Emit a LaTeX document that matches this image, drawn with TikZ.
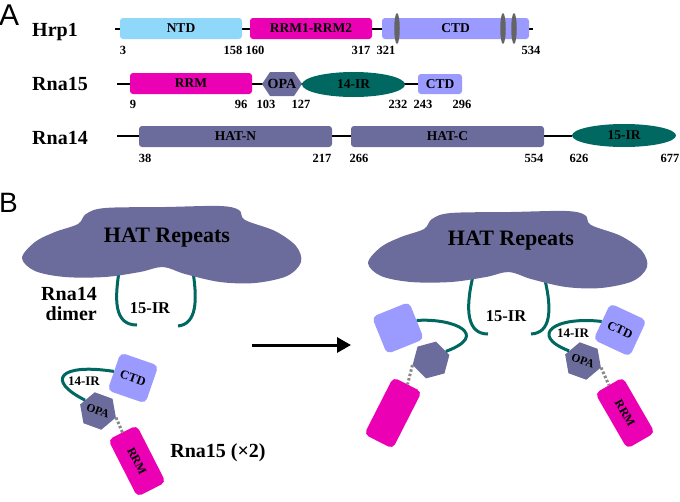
\documentclass[tikz,border=0pt]{standalone}
\usepackage{fontspec}
\setmainfont{Liberation Serif}
\newfontfamily\panelfont{Liberation Sans}
\usetikzlibrary{shapes.geometric,arrows.meta}
\definecolor{ntdblue}{RGB}{143,216,250}
\definecolor{rrmpink}{RGB}{235,0,180}
\definecolor{ctdlav}{RGB}{155,155,255}
\definecolor{hatslate}{RGB}{108,108,156}
\definecolor{irteal}{RGB}{0,104,96}
\definecolor{kinkgray}{RGB}{100,100,100}
\definecolor{tethergray}{RGB}{136,136,136}
\begin{document}
\begin{tikzpicture}[x=1pt,y=-1pt,
    bb/.style={line width=2pt},
    dom/.style={rounded corners=3pt,inner sep=0pt,minimum height=21pt,font=\bfseries\fontsize{13.5}{15}\selectfont},
    irdom/.style={ellipse,fill=irteal,inner sep=0pt,font=\bfseries\fontsize{13.5}{15}\selectfont},
    kink/.style={ellipse,fill=kinkgray,inner sep=0pt,minimum width=5.5pt,minimum height=31pt},
    num/.style={anchor=base,inner sep=0pt,font=\bfseries\fontsize{12.5}{14}\selectfont},
    prot/.style={anchor=base west,inner sep=0pt,font=\bfseries\fontsize{20}{22}\selectfont},
    panel/.style={anchor=base west,inner sep=0pt,font=\panelfont\fontsize{30}{32}\selectfont},
    hatcloud/.pic={\fill[hatslate] plot[smooth cycle,tension=0.55] coordinates{(-140,13)(-127,-3)(-107,-13)(-84,-21)(-76,-31)(-57,-37)(3,-38)(58,-39)(77,-35)(83,-25)(113,-14)(134,1)(139,17)(125,31)(93,38)(58,37)(23,29)(1,22)(-22,27)(-57,32)(-97,32)(-127,26)};},
    ctdsq/.style={fill=ctdlav,rounded corners=5pt,minimum size=40pt,inner sep=0pt},
    opahex/.style={regular polygon,regular polygon sides=6,fill=hatslate,minimum size=38pt,inner sep=0pt},
    rrmbox/.style={fill=rrmpink,rounded corners=5pt,minimum width=64pt,minimum height=32pt,inner sep=0pt},
    tag/.style={inner sep=0pt,font=\bfseries\fontsize{12.5}{14}\selectfont},
    linker/.style={draw=irteal,line width=3pt},
    tether/.style={draw=tethergray,line width=3pt,dash pattern=on 2.5pt off 2pt},
    lbl/.style={anchor=base,inner sep=0pt,font=\bfseries\fontsize{13}{15}\selectfont},
    big/.style={inner sep=0pt,font=\bfseries\fontsize{20}{23}\selectfont}]
\useasboundingbox (0,0) rectangle (680,501);
\node[panel] (pa) at (-1,25) {A};
\node[prot] (hrp) at (32,36) {Hrp1};
\coordinate (h0) at (115,29);\coordinate (h1) at (533,29);
\draw[bb] (h0)--(h1);
\node[dom,fill=ntdblue,minimum width=122pt] (ntd) at (181,28.5) {NTD};
\node[dom,fill=rrmpink,minimum width=122pt] (rrm12) at (311,28.5) {RRM1-RRM2};
\node[dom,fill=ctdlav,minimum width=147pt] (ctdA) at (455.5,28.5) {CTD};
\node[kink] (k1) at (397,28.5) {};
\node[kink] (k2) at (503,28.5) {};
\node[kink] (k3) at (514,28.5) {};
\node[num] (n3) at (123,54) {3};
\node[num] (n158) at (233,54) {158};
\node[num] (n160) at (255,54) {160};
\node[num] (n317) at (361,54) {317};
\node[num] (n321) at (386,54) {321};
\node[num] (n534) at (531,54) {534};
\node[prot] (rna15) at (32,90) {Rna15};
\coordinate (r0) at (117,84);\coordinate (r1) at (440,84);
\draw[bb] (r0)--(r1);
\node[dom,fill=rrmpink,minimum width=122pt] (rrmA) at (191,83.5) {RRM};
\fill[hatslate] (262,84)--(270,72)--(294,72)--(302,84)--(294,96)--(270,96)--cycle;
\node[inner sep=0pt,font=\bfseries\fontsize{14}{15}\selectfont] (opaA) at (282,84) {OPA};
\node[irdom,minimum width=103pt,minimum height=25pt] (ir14A) at (353.5,84.5) {14-IR};
\node[dom,fill=ctdlav,minimum width=44pt,minimum height=20pt] (ctd15) at (440,84) {CTD};
\node[num] (n9) at (133,108) {9};
\node[num] (n96) at (241,108) {96};
\node[num] (n103) at (266,108) {103};
\node[num] (n127) at (301,108) {127};
\node[num] (n232) at (398,108) {232};
\node[num] (n243) at (423,108) {243};
\node[num] (n296) at (462,108) {296};
\node[prot] (rna14) at (32,144) {Rna14};
\coordinate (q0) at (117,136);\coordinate (q1) at (572,136);
\draw[bb] (q0)--(q1);
\node[dom,fill=hatslate,minimum width=193pt] (hatn) at (235.5,136.5) {HAT-N};
\node[dom,fill=hatslate,minimum width=193pt] (hatc) at (447.5,136.5) {HAT-C};
\node[irdom,minimum width=104pt,minimum height=23pt] (ir15A) at (624,135.5) {15-IR};
\node[num] (n38) at (145,162) {38};
\node[num] (n217) at (322,162) {217};
\node[num] (n266) at (359,162) {266};
\node[num] (n554) at (534,162) {554};
\node[num] (n626) at (579,162) {626};
\node[num] (n677) at (670,162) {677};
\node[panel,font=\panelfont\fontsize{28}{30}\selectfont] (pb) at (-1,212) {B};
\draw[linker] (120,266) .. controls (114,300) and (114,325) .. (137,325);
\draw[linker] (192,266) .. controls (198,300) and (197,324) .. (178,326);
\draw[linker] (473,276) .. controls (465,310) and (467,334) .. (488,334);
\draw[linker] (545,280) .. controls (552,310) and (551,333) .. (531,334);
\pic at (162,245) {hatcloud};
\pic at (508,250) {hatcloud};
\node[big,anchor=base,font=\bfseries\fontsize{22}{24}\selectfont] (hatL) at (167,242) {HAT Repeats};
\node[big,anchor=base,font=\bfseries\fontsize{22}{24}\selectfont] (hatR) at (511,245) {HAT Repeats};
\node[big,anchor=base,font=\bfseries\fontsize{16.5}{18}\selectfont] (irL) at (150,313) {15-IR};
\node[big,anchor=base,font=\bfseries\fontsize{16.5}{18}\selectfont] (irR) at (506,321) {15-IR};
\node[big,anchor=base east] (dimA) at (97,300) {Rna14};
\node[big,anchor=base east] (dimB) at (97,320) {dimer};
\coordinate (arr0) at (252,345);\coordinate (arr1) at (351,345);
\draw[line width=3pt,-{Triangle[length=14pt,width=15pt]}] (arr0)--(arr1);
\node[ctdsq,rotate=-19] (ctdL) at (133,378) {};
\node[opahex,rotate=-20] (opaL) at (98,411) {};
\node[rrmbox,rotate=-63] (rrmL) at (137,461) {};
\node[tag,rotate=-19] (ctdLt) at (ctdL) {CTD};
\node[tag,rotate=-20,font=\bfseries\fontsize{11.5}{13}\selectfont] (opaLt) at (opaL) {OPA};
\node[tag,rotate=-63,font=\bfseries\fontsize{12}{13}\selectfont] (rrmLt) at (rrmL) {RRM};
\draw[linker] (ctdL.west) .. controls (60,363) and (45,380) .. (opaL.160);
\draw[tether] (opaL.0)--(rrmL.west);
\node[lbl] (ir14L) at (84,385) {14-IR};
\node[big,anchor=base] (rna15x) at (218,457) {Rna15 (×2)};
\node[ctdsq,rotate=22] (ctdRL) at (398,328) {};
\node[opahex,rotate=15] (opaRL) at (431,360) {};
\node[rrmbox,rotate=63] (rrmRL) at (393,413) {};
\draw[linker] (ctdRL.east) .. controls (455,318) and (490,335) .. (opaRL.15);
\draw[tether] (opaRL.180)--(rrmRL.east);
\node[ctdsq,rotate=-25] (ctdRR) at (620,330) {};
\node[opahex,rotate=-20] (opaRR) at (583,361) {};
\node[rrmbox,rotate=-60] (rrmRR) at (625,413) {};
\node[tag,rotate=-25] (ctdRRt) at (ctdRR) {CTD};
\node[tag,rotate=-20,font=\bfseries\fontsize{11.5}{13}\selectfont] (opaRRt) at (opaRR) {OPA};
\node[tag,rotate=-60,font=\bfseries\fontsize{12}{13}\selectfont] (rrmRRt) at (rrmRR) {RRM};
\draw[linker] (ctdRR.west) .. controls (555,316) and (528,335) .. (opaRR.164);
\draw[tether] (opaRR.0)--(rrmRR.west);
\node[lbl] (ir14R) at (573,337) {14-IR};
\end{tikzpicture}
\end{document}
